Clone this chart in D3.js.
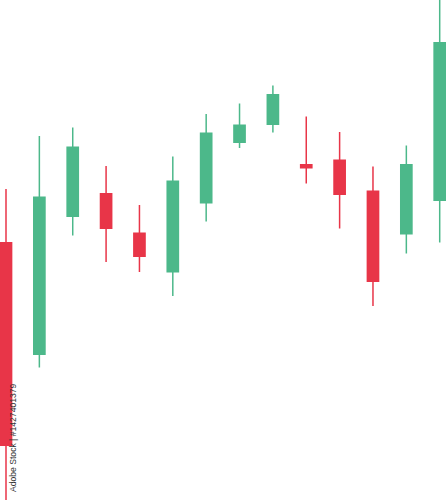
<!DOCTYPE html>
<html><head><meta charset="utf-8">
<script src="https://cdn.jsdelivr.net/npm/d3@7"></script>
<style>html,body{margin:0;padding:0;background:#fff;}svg{display:block;}</style>
</head><body>
<svg id="chart" width="446" height="500"></svg>
<script>
const days = ["D1","D2","D3","D4","D5","D6","D7","D8","D9","D10","D11","D12","D13","D14"];
const open  = [71.6, 49.0, 76.6, 81.4, 73.5, 65.5, 79.3, 91.4, 95.0, 87.2, 88.1, 81.9, 73.1, 79.8];
const close = [30.8, 80.7, 90.7, 74.2, 68.6, 83.9, 93.5, 95.1, 101.2, 86.3, 81.0, 63.6, 87.2, 111.6];
const high  = [82.2, 92.8, 94.5, 86.8, 79.0, 88.7, 97.2, 99.3, 102.9, 96.7, 93.6, 86.7, 90.9, 122.0];
const low   = [18.0, 46.5, 72.9, 67.6, 65.6, 60.8, 75.7, 90.4, 93.5, 83.3, 74.3, 58.8, 69.3, 71.5];

const W = 446, H = 500;
const svg = d3.select("#chart");
const x = d3.scalePoint().domain(days).range([6, 439.7]);
const y = d3.scaleLinear().domain([20, 120]).range([H, 0]);
const bodyW = 12.7;
const up = "#4cb88a", down = "#e83548";

const data = days.map((d,i)=>({d, o:open[i], c:close[i], h:high[i], l:low[i]}));
const g = svg.append("g");
const cand = g.selectAll("g.c").data(data).join("g").attr("class","c");
cand.append("line")
  .attr("x1", d=>x(d.d)).attr("x2", d=>x(d.d))
  .attr("y1", d=>y(d.h)).attr("y2", d=>y(d.l))
  .attr("stroke", d=>d.c>=d.o?up:down).attr("stroke-width",1.5);
cand.append("rect")
  .attr("x", d=>x(d.d)-bodyW/2).attr("width", bodyW)
  .attr("y", d=>y(Math.max(d.o,d.c)))
  .attr("height", d=>Math.max(1, Math.abs(y(d.o)-y(d.c))))
  .attr("fill", d=>d.c>=d.o?up:down);

svg.append("text")
  .attr("transform","translate(16,492) rotate(-90)")
  .attr("font-family","Liberation Sans, Arial, sans-serif")
  .attr("font-size",8.6).attr("fill","#333")
  .text("Adobe Stock | #1427401379");
</script>
</body></html>
